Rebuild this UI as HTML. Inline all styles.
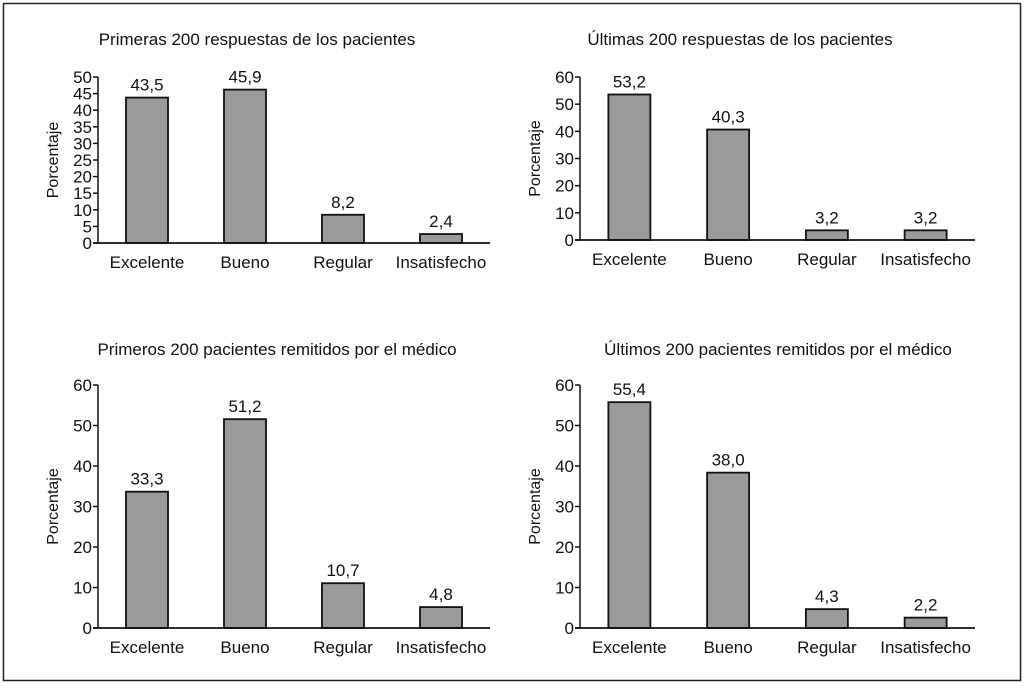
<!DOCTYPE html>
<html><head><meta charset="utf-8"><style>
body{margin:0;background:#fff}
svg text{font-family:"Liberation Sans",Arial,sans-serif;fill:#111}
</style></head><body>
<svg width="1024" height="685">
<rect x="3.5" y="3.5" width="1017" height="677" fill="none" stroke="#222" stroke-width="1.5"/>
<g id="root"></g>
</svg>
<script>
const categories=["Excelente","Bueno","Regular","Insatisfecho"];
const valuesTL=[43.5,45.9,8.2,2.4];
const valuesTR=[53.2,40.3,3.2,3.2];
const valuesBL=[33.3,51.2,10.7,4.8];
const valuesBR=[55.4,38.0,4.3,2.2];
const ticksTL=[0,5,10,15,20,25,30,35,40,45,50];
const ticks60=[0,10,20,30,40,50,60];
const titles=["Primeras 200 respuestas de los pacientes","Últimas 200 respuestas de los pacientes","Primeros 200 pacientes remitidos por el médico","Últimos 200 pacientes remitidos por el médico"];
const NS="http://www.w3.org/2000/svg";
const root=document.getElementById('root');
function mk(t,a,p){const e=document.createElementNS(NS,t);for(const k in a)e.setAttribute(k,a[k]);(p||root).appendChild(e);return e;}
const panels=[
 {vals:valuesTL,ticks:ticksTL,max:50,ax:98,y0:243,ytop:77,xend:490,tx:257,ty:45,name:'chart-top-left'},
 {vals:valuesTR,ticks:ticks60,max:60,ax:580,y0:240,ytop:77,xend:975,tx:740,ty:45,name:'chart-top-right'},
 {vals:valuesBL,ticks:ticks60,max:60,ax:98,y0:628,ytop:385,xend:490,tx:277,ty:355,name:'chart-bottom-left'},
 {vals:valuesBR,ticks:ticks60,max:60,ax:580,y0:628,ytop:385,xend:975,tx:778,ty:355,name:'chart-bottom-right'}];
panels.forEach((p,pi)=>{
 const g=mk('g',{});
 
 
 const y=v=>p.y0-(v/p.max)*(p.y0-p.ytop);
 const t=mk('text',{x:p.tx,y:p.ty,'text-anchor':'middle','font-size':17},g);t.textContent=titles[pi];
 
 
 const yl=mk('text',{x:0,y:0,'text-anchor':'middle','font-size':16,transform:`translate(${p.ax-40},${(p.y0+p.ytop)/2}) rotate(-90)`},g);yl.textContent='Porcentaje';
 
 
 p.ticks.forEach(v=>{
  mk('line',{x1:p.ax-5,x2:p.ax,y1:y(v),y2:y(v),stroke:'#111','stroke-width':1.5},g);
  const tl=mk('text',{x:p.ax-6,y:y(v)+6,'text-anchor':'end','font-size':17},g);tl.textContent=v;
  
  
 });
 const bw=(p.xend-p.ax)/4;
 p.vals.forEach((v,i)=>{
  const cx=p.ax+bw*(i+0.5);
  const top=y(v)-(p.y0-p.ytop)*0.006;
  const r=mk('rect',{x:cx-21,y:top,width:42,height:p.y0-top,fill:'#9a999b',stroke:'#111','stroke-width':1.8},g);
  
  
  const vl=mk('text',{x:cx,y:top-7,'text-anchor':'middle','font-size':17},g);vl.textContent=v.toFixed(1).replace('.',',');
  
  
  const cl=mk('text',{x:cx,y:p.y0+25,'text-anchor':'middle','font-size':17},g);cl.textContent=categories[i];
  
  
 });
 mk('line',{x1:p.ax,x2:p.ax,y1:p.ytop,y2:p.y0,stroke:'#111','stroke-width':1.5},g);
 mk('line',{x1:p.ax-5,x2:p.xend,y1:p.y0,y2:p.y0,stroke:'#111','stroke-width':1.8},g);
});
</script>
</body></html>
